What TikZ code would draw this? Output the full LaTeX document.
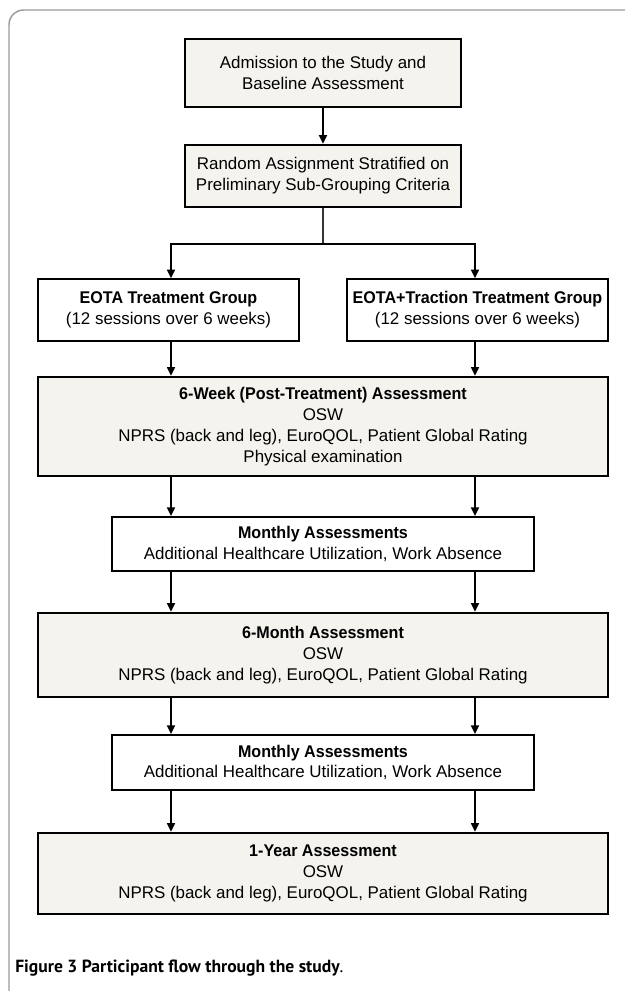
\documentclass[tikz,border=0pt]{standalone}
\usepackage{fontspec}
\setmainfont{Liberation Sans}[BoldFeatures={FakeStretch=0.95}]
\newfontfamily\capfont{PT Sans}
\usetikzlibrary{arrows.meta}
\definecolor{boxfill}{HTML}{F4F3EE}
\definecolor{framegray}{HTML}{9C9C9C}
\begin{document}
\begin{tikzpicture}[x=0.75pt,y=-0.75pt,
  every node/.style={font=\fontsize{12.7pt}{15.6pt}\selectfont, align=center, inner sep=0pt},
  shadedbox/.style={draw, fill=boxfill, line width=1.9pt},
  plainbox/.style={draw, fill=white, line width=1.1pt},
  monthbox/.style={draw, fill=white, line width=1.5pt},
  arr/.style={-{Triangle[width=6pt,length=6.5pt]}, line width=1.1pt}]
\useasboundingbox (0,0) rectangle (624,991);
\fill[white] (0,0) rectangle (624,991);
\draw[framegray, line width=1.1pt, rounded corners=11pt] (9,10) rectangle (680,1030);

\node[shadedbox, minimum width=207pt, minimum height=51pt] (adm) at (323,73)
  {Admission to the Study and\\Baseline Assessment};
\node[shadedbox, minimum width=207pt, minimum height=46.5pt] (rand) at (323,176)
  {Random Assignment Stratified on\\Preliminary Sub-Grouping Criteria};
\node[plainbox, minimum width=195.75pt, minimum height=46.5pt] (eota) at (168.5,310)
  {\textbf{EOTA Treatment Group}\\(12 sessions over 6 weeks)};
\node[plainbox, minimum width=195.75pt, minimum height=46.5pt] (trac) at (477.5,310)
  {\textbf{EOTA+Traction Treatment Group}\\(12 sessions over 6 weeks)};
\node[shadedbox, minimum width=427.5pt, minimum height=74.25pt] (wk6) at (323,426.5)
  {\textbf{6-Week (Post-Treatment) Assessment}\\OSW\\NPRS (back and leg), EuroQOL, Patient Global Rating\\Physical examination};
\node[monthbox, minimum width=316.5pt, minimum height=40.5pt] (m1) at (323,544)
  {\textbf{Monthly Assessments}\\Additional Healthcare Utilization, Work Absence};
\node[shadedbox, minimum width=427.5pt, minimum height=63pt] (mo6) at (323,655)
  {\textbf{6-Month Assessment}\\OSW\\NPRS (back and leg), EuroQOL, Patient Global Rating};
\node[monthbox, minimum width=316.5pt, minimum height=41.25pt] (m2) at (323,762.5)
  {\textbf{Monthly Assessments}\\Additional Healthcare Utilization, Work Absence};
\node[shadedbox, minimum width=427.5pt, minimum height=60.75pt] (yr1) at (323,873.5)
  {\textbf{1-Year Assessment}\\OSW\\NPRS (back and leg), EuroQOL, Patient Global Rating};

\node[anchor=west, font=\capfont\fontsize{13.2pt}{16pt}\selectfont] (cap) at (15,968)
  {\textbf{Figure 3 Participant flow through the study}.};

\coordinate (L) at (171,0);
\coordinate (R) at (475,0);
\coordinate (br) at (323,244);

\draw[arr, line width=1.4pt] (adm.south) -- (rand.north);
\draw[line width=1.1pt, black!80] (rand.south) -- (br);
\draw[arr] (br) -| (eota.north -| L);
\draw[arr] (br) -| (trac.north -| R);
\draw[arr] (eota.south -| L) -- (wk6.north -| L);
\draw[arr] (trac.south -| R) -- (wk6.north -| R);
\draw[arr] (wk6.south -| L) -- (m1.north -| L);
\draw[arr] (wk6.south -| R) -- (m1.north -| R);
\draw[arr] (m1.south -| L) -- (mo6.north -| L);
\draw[arr] (m1.south -| R) -- (mo6.north -| R);
\draw[arr] (mo6.south -| L) -- (m2.north -| L);
\draw[arr] (mo6.south -| R) -- (m2.north -| R);
\draw[arr] (m2.south -| L) -- (yr1.north -| L);
\draw[arr] (m2.south -| R) -- (yr1.north -| R);
\end{tikzpicture}
\end{document}
